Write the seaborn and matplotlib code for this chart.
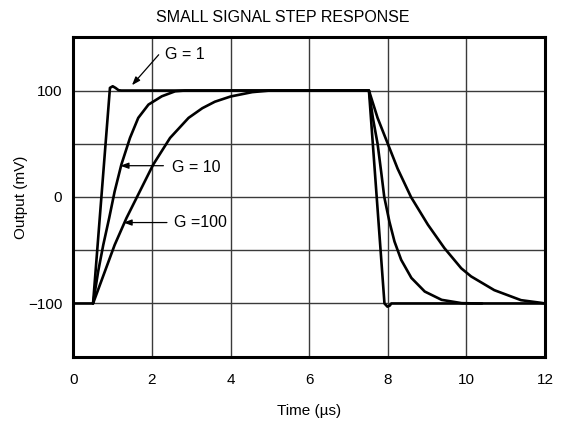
import matplotlib
matplotlib.use("Agg")
import matplotlib.pyplot as plt
import seaborn as sns
import pandas as pd

# ---- data ----
g1_t = [0.0, 0.50, 0.93, 1.00, 1.07, 1.15, 1.22, 7.52, 7.915, 7.99, 8.05, 8.09, 8.2, 12.0]
g1_v = [-100, -100, 102.5, 104, 102.5, 100.3, 100, 100, -100, -103, -102, -100, -100, -100]

g10_t = [0.50, 0.63, 0.76, 0.91, 1.05, 1.22, 1.44, 1.65, 1.91, 2.25, 2.59, 2.84,
         7.52, 7.62, 7.74, 7.83, 7.91, 8.04, 8.17, 8.34, 8.60, 8.94, 9.37, 9.88, 10.3, 10.4]
g10_v = [-100, -70, -45, -19.8, 5.3, 30.4, 55.5, 74.3, 86.8, 94.6, 99.3, 100,
         100, 74.3, 50, 24, 0, -23, -41.8, -59, -76, -88.8, -96.6, -99.7, -100, -100]

g100_t = [0.50, 0.80, 1.05, 1.35, 1.69, 2.03, 2.46, 2.93, 3.28, 3.6, 4.0, 4.55, 5.0,
          7.52, 7.74, 8.0, 8.25, 8.59, 9.02, 9.44, 9.87, 10.12, 10.71, 11.39, 11.9, 12.0]
g100_v = [-100, -70, -45, -19.8, 5.3, 30.4, 55.5, 74.3, 83.4, 89.5, 94.4, 98.5, 100,
          100, 74.3, 50, 26.6, 0, -26, -48, -67, -74.6, -87.5, -96.9, -99.4, -100]

x_ticks = [0, 2, 4, 6, 8, 10, 12]
y_ticks = [-100, -50, 0, 50, 100]
y_tick_labels = ["\u2212100", "", "0", "", "100"]

labels = ["G = 1", "G = 10", "G =100"]
label_text_pos = [(2.34, 133.6), (2.50, 27.7), (2.57, -24.0)]
arrow_tail = [(2.17, 133.6), (2.29, 29.4), (2.38, -24.0)]
arrow_head = [(1.49, 105.0), (1.19, 29.4), (1.27, -24.0)]

title = "SMALL SIGNAL STEP RESPONSE"
xlabel = "Time (\u00b5s)"
ylabel = "Output (mV)"

# ---- styling ----
sns.set_style("white")
plt.rcParams["font.family"] = ["Liberation Sans", "DejaVu Sans"]
plt.rcParams["axes.unicode_minus"] = True
plt.rcParams["text.color"] = "black"
plt.rcParams["axes.labelcolor"] = "black"
plt.rcParams["xtick.color"] = "black"
plt.rcParams["ytick.color"] = "black"

fig = plt.figure(figsize=(5.66, 4.26), dpi=100)
ax = fig.add_axes([73.4 / 566, (426 - 356.7) / 426, (545 - 73.4) / 566, (356.7 - 37.3) / 426])

for t, v in [(g1_t, g1_v), (g10_t, g10_v), (g100_t, g100_v)]:
    df = pd.DataFrame({"t": t, "v": v})
    sns.lineplot(data=df, x="t", y="v", ax=ax, sort=False, estimator=None,
                 color="black", linewidth=1.9, zorder=3,
                 solid_joinstyle="round", solid_capstyle="round")

ax.set_xlim(0, 12)
ax.set_ylim(-150, 150)
ax.set_xticks(x_ticks)
ax.set_xticklabels([str(x) for x in x_ticks], fontsize=11)
ax.set_yticks(y_ticks)
ax.set_yticklabels(y_tick_labels, fontsize=11)
ax.tick_params(axis="both", length=0)
ax.tick_params(axis="x", pad=12)
ax.tick_params(axis="y", pad=8)
ax.grid(True, color="#3a3a3a", linewidth=1.0)
ax.set_axisbelow(True)
for s in ax.spines.values():
    s.set_color("black")
    s.set_linewidth(2.2)
    s.set_zorder(5)

xl = ax.set_xlabel(xlabel, fontsize=11)
ax.xaxis.set_label_coords(0.5, (356.7 - 411) / 319.4)
xl.set_verticalalignment("center")
yl = ax.set_ylabel(ylabel, fontsize=11)
ax.yaxis.set_label_coords((20.7 - 73.4) / 471.6, 0.5)
yl.set_verticalalignment("center")

fig.text(0.5, 1 - 17 / 426, title, ha="center", va="center", fontsize=11.5)

for lab, tp, tail, head in zip(labels, label_text_pos, arrow_tail, arrow_head):
    ax.annotate("", xy=head, xytext=tail,
                arrowprops=dict(arrowstyle="-|>,head_length=0.5,head_width=0.18",
                                color="black", lw=0.9, shrinkA=0, shrinkB=0), zorder=4)
    ax.text(tp[0], tp[1], lab, ha="left", va="center", fontsize=11.5, zorder=4)

fig.savefig("out.png", dpi=100)
